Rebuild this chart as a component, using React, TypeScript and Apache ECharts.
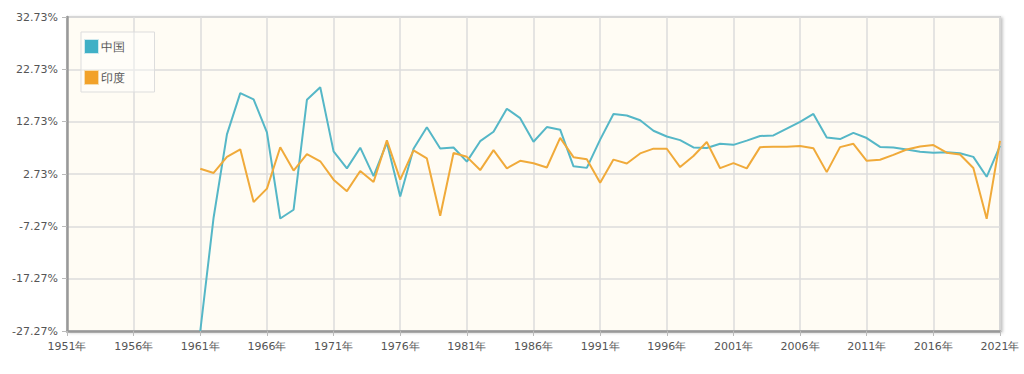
import React, { useEffect, useRef } from "react";
import * as echarts from "echarts";

const years: string[] = [];
for (let y = 1951; y <= 2021; y++) years.push(y + "年");

const chinaFrom1961 = [
  -27.27, -5.58, 10.3, 18.18, 17.0, 10.7, -5.77, -4.1, 16.9, 19.3,
  7.06, 3.81, 7.76, 2.31, 8.72, -1.57, 7.55, 11.67, 7.6, 7.8,
  5.1, 9.0, 10.8, 15.2, 13.4, 8.9, 11.7, 11.2, 4.2, 3.9,
  9.3, 14.2, 13.9, 13.0, 11.0, 9.9, 9.2, 7.8, 7.7, 8.5,
  8.3, 9.1, 10.0, 10.1, 11.4, 12.7, 14.2, 9.7, 9.4, 10.6,
  9.6, 7.9, 7.8, 7.4, 7.0, 6.8, 6.9, 6.7, 6.0, 2.2, 8.1,
];

const indiaFrom1961 = [
  3.72, 2.93, 5.99, 7.45, -2.64, -0.06, 7.83, 3.39, 6.54, 5.16,
  1.64, -0.55, 3.3, 1.19, 9.15, 1.66, 7.25, 5.71, -5.24, 6.74,
  6.01, 3.48, 7.29, 3.82, 5.25, 4.78, 3.97, 9.63, 5.95, 5.53,
  1.06, 5.48, 4.75, 6.66, 7.57, 7.55, 4.05, 6.18, 8.85, 3.84,
  4.82, 3.8, 7.86, 7.92, 7.92, 8.06, 7.66, 3.09, 7.86, 8.5,
  5.24, 5.46, 6.39, 7.41, 8.0, 8.26, 6.8, 6.45, 3.87, -5.83, 9.05,
];

const leadingNulls: (number | null)[] = new Array(10).fill(null);
const china = [...leadingNulls, ...chinaFrom1961];
const india = [...leadingNulls, ...indiaFrom1961];

const yMin = -27.27;
const yMax = 32.73;
const yStep = 10;

export default function App() {
  const ref = useRef<HTMLDivElement>(null);
  useEffect(() => {
    if (!ref.current) return;
    const chart = echarts.init(ref.current, undefined, { renderer: "svg" });
    const font = "DejaVu Sans, Verdana, sans-serif";
    chart.setOption({
      animation: false,
      grid: {
        left: 67,
        right: 24,
        top: 17,
        bottom: 43,
        show: true,
        backgroundColor: "#fffcf4",
        borderColor: "#b5b5b5",
        borderWidth: 1.5,
        shadowColor: "rgba(0,0,0,0.25)",
        shadowBlur: 3,
        shadowOffsetX: 2,
        shadowOffsetY: 1,
      },
      legend: {
        orient: "vertical",
        left: 81,
        top: 32,
        padding: [7, 30, 7, 3],
        itemGap: 16,
        itemWidth: 14,
        itemHeight: 14,
        icon: "rect",
        borderColor: "#dddddd",
        borderWidth: 1,
        backgroundColor: "rgba(255,255,255,0.4)",
        textStyle: { color: "#555", fontSize: 12, fontFamily: font, padding: [0, 0, 0, -3] },
        data: [
          { name: "中国", itemStyle: { borderColor: "#cfe9ee", borderWidth: 1 } },
          { name: "印度", itemStyle: { borderColor: "#f6dcae", borderWidth: 1 } },
        ],
      },
      xAxis: {
        type: "category",
        data: years,
        boundaryGap: false,
        axisLine: { onZero: false, lineStyle: { color: "#999", width: 2.5 } },
        axisTick: { show: true, interval: 4, length: 5, lineStyle: { color: "#bbb" } },
        axisLabel: { interval: 4, color: "#555", fontSize: 11, fontFamily: font, margin: 10 },
        splitLine: { show: true, interval: 4, lineStyle: { color: "#dcdcdc", width: 1.5 } },
      },
      yAxis: {
        type: "value",
        min: yMin,
        max: yMax,
        interval: yStep,
        axisLine: { show: true, lineStyle: { color: "#999", width: 2.5 } },
        axisTick: { show: true, length: 5, lineStyle: { color: "#bbb" } },
        axisLabel: {
          color: "#555",
          fontSize: 11,
          fontFamily: font,
          margin: 9,
          formatter: (v: number) => v.toFixed(2) + "%",
        },
        splitLine: { show: true, lineStyle: { color: "#dcdcdc", width: 1.5 } },
      },
      series: [
        {
          name: "中国",
          type: "line",
          data: china,
          showSymbol: false,
          symbol: "none",
          lineStyle: { color: "#55b7c7", width: 2 },
          itemStyle: { color: "#40b0c6" },
        },
        {
          name: "印度",
          type: "line",
          data: india,
          showSymbol: false,
          symbol: "none",
          lineStyle: { color: "#f0aa3a", width: 2 },
          itemStyle: { color: "#f2a22a" },
        },
      ],
    });
    return () => chart.dispose();
  }, []);
  return <div ref={ref} style={{ width: 1024, height: 374, position: "absolute", left: 0, top: 0 }} />;
}
